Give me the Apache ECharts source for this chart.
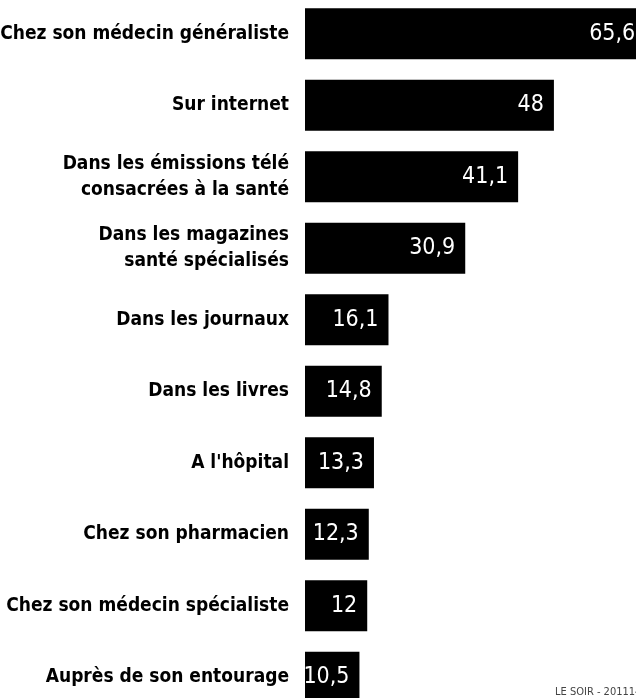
<!DOCTYPE html>
<html>
<head>
<meta charset="utf-8">
<script src="https://cdn.jsdelivr.net/npm/echarts@6/dist/echarts.min.js"></script>
<style>
html,body{margin:0;padding:0;background:#fff;}
#chart{width:636px;height:698px;}
</style>
</head>
<body>
<div id="chart"></div>
<script>
const categories = [
  "Chez son médecin généraliste",
  "Sur internet",
  "Dans les émissions télé\nconsacrées à la santé",
  "Dans les magazines\nsanté spécialisés",
  "Dans les journaux",
  "Dans les livres",
  "A l'hôpital",
  "Chez son pharmacien",
  "Chez son médecin spécialiste",
  "Auprès de son entourage"
];
const values = [65.6, 48, 41.1, 30.9, 16.1, 14.8, 13.3, 12.3, 12, 10.5];
const sourceText = "LE SOIR - 201114";

const FONT = '"DejaVu Sans Condensed", "Liberation Sans Narrow", sans-serif';
const chart = echarts.init(document.getElementById('chart'));
chart.setOption({
  animation: false,
  backgroundColor: '#fff',
  grid: { left: 305, top: -2, width: 363, height: 715, containLabel: false, outerBoundsMode: 'none' },
  xAxis: {
    type: 'value', min: 0, max: 70,
    show: false
  },
  yAxis: {
    type: 'category', data: categories, inverse: true,
    axisLine: { show: false }, axisTick: { show: false },
    axisLabel: {
      margin: 16, color: '#000', fontFamily: FONT, fontWeight: 'bold',
      fontSize: 19, lineHeight: 26, align: 'right'
    }
  },
  series: [{
    type: 'bar', data: values, barWidth: 51, clip: false,
    itemStyle: { color: '#000' },
    label: {
      show: true, position: 'insideRight', distance: 10,
      color: '#fff', fontFamily: FONT, fontSize: 23, fontWeight: 500,
      formatter: p => String(p.value).replace('.', ',')
    }
  }],
  graphic: [{
    type: 'text', left: 555, top: 687,
    style: { text: sourceText, fontSize: 11, fontFamily: FONT, fill: '#444' }
  }]
});
</script>
</body>
</html>
